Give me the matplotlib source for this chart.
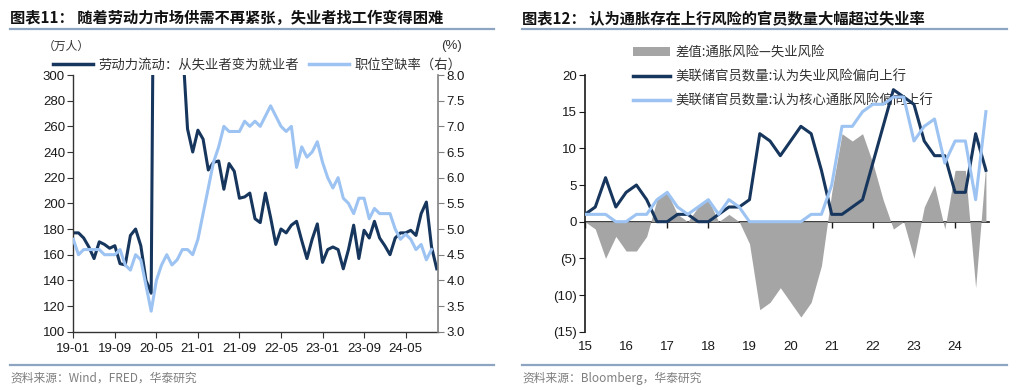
import numpy as np
import matplotlib
matplotlib.use("Agg")
import matplotlib.pyplot as plt
from matplotlib.lines import Line2D
from matplotlib.patches import Patch
from matplotlib.ticker import FuncFormatter, FormatStrFormatter
from matplotlib.font_manager import FontProperties

plt.rcParams['font.family'] = ['Liberation Sans', 'Noto Sans CJK SC', 'DejaVu Sans']
CJK = ['Noto Sans CJK SC', 'DejaVu Sans']

# ---------------- data: left chart (monthly, 2019-01 .. 2024-11) ----------------
flow_ue = [177, 177, 173, 166, 157, 170, 168, 165, 167, 153, 152, 175, 180, 167, 140, 130,
           700, 600, 500, 420, 370, 326, 258, 240, 257, 250, 226, 232, 233, 211, 231, 225,
           204, 205, 208, 188, 185, 208, 189, 168, 180, 177, 183, 186, 171, 157, 172, 184,
           154, 164, 166, 164, 149, 164, 183, 157, 179, 173, 186, 173, 167, 160, 173, 177,
           177, 179, 175, 192, 201, 166, 149]
vacancy_rate = [4.8, 4.5, 4.6, 4.6, 4.6, 4.6, 4.5, 4.5, 4.5, 4.6, 4.3, 4.2, 4.5, 4.4, 3.9, 3.4,
                4.0, 4.3, 4.5, 4.3, 4.4, 4.6, 4.6, 4.5, 4.8, 5.3, 5.8, 6.3, 6.6, 7.0, 6.9, 6.9,
                6.9, 7.1, 7.0, 7.1, 7.0, 7.2, 7.4, 7.2, 7.0, 6.9, 7.0, 6.2, 6.6, 6.4, 6.5, 6.7,
                6.3, 6.0, 5.8, 6.0, 5.6, 5.5, 5.3, 5.6, 5.6, 5.2, 5.4, 5.3, 5.3, 5.3, 5.0, 4.8,
                4.9, 4.8, 4.6, 4.7, 4.4, 4.6]
left_xlabels = ["19-01", "19-09", "20-05", "21-01", "21-09", "22-05", "23-01", "23-09", "24-05"]

# ---------------- data: right chart (quarterly SEP, 2015Q1 .. 2024Q4) ----------------
unemp_up = [1, 2, 6, 2, 4, 5, 3, 0, 0, 1, 1, 0, 0, 1, 2, 2, 3, 12, 11, 9,
            11, 13, 12, 7, 1, 1, 2, 3, 8, 13, 18, 17, 16, 11, 9, 9, 4, 4, 12, 7]
infl_up = [1, 1, 1, 0, 0, 1, 1, 3, 4, 2, 1, 2, 3, 1, 3, 2, 0, 0, 0, 0,
           0, 0, 1, 1, 5, 13, 13, 15, 16, 16, 17, 17, 11, 13, 14, 8, 11, 11, 3, 15]
right_xlabels = ["15", "16", "17", "18", "19", "20", "21", "22", "23", "24"]

NAVY = "#17365d"
LIGHT = "#9cc3f2"
GRAY = "#a5a5a5"
RULE = "#8da5c3"

W, H = 1024, 390
fig = plt.figure(figsize=(W / 100, H / 100), dpi=100)

def fx(px):
    return px / W

def fy(py):
    return 1 - py / H

# ---------------- left chart ----------------
ax = fig.add_axes([fx(73.3), fy(331.7), fx(438.3 - 73.3), (331.7 - 75) / H])
m = np.arange(len(flow_ue))
ax.plot(m, flow_ue, color=NAVY, lw=2.2)
ax.set_xlim(0, 70.3)
ax.set_ylim(100, 300)
ax.set_yticks(np.arange(100, 301, 20))
ax.set_xticks(np.arange(0, 8 * len(left_xlabels), 8))
ax.set_xticklabels(left_xlabels)
for s in ['top', 'right']:
    ax.spines[s].set_visible(False)
for s in ['left', 'bottom']:
    ax.spines[s].set_color('#333333')
    ax.spines[s].set_linewidth(1.0)
ax.tick_params(axis='both', direction='out', length=4, labelsize=9.5, colors='#333333',
               labelcolor='#1a1a1a')
ax.tick_params(axis='x', pad=4)
ax.tick_params(axis='y', pad=2)

ax2 = ax.twinx()
ax2.plot(np.arange(len(vacancy_rate)), vacancy_rate, color=LIGHT, lw=2.2)
ax2.set_ylim(3, 8)
ax2.set_yticks(np.arange(3, 8.01, 0.5))
ax2.yaxis.set_major_formatter(FormatStrFormatter('%.1f'))
for s in ['top', 'left', 'bottom']:
    ax2.spines[s].set_visible(False)
ax2.spines['right'].set_color('#808080')
ax2.spines['right'].set_linewidth(1.2)
ax2.tick_params(axis='y', direction='out', length=4, labelsize=9.5, colors='#808080',
                labelcolor='#1a1a1a', pad=2)

fig.text(fx(43), fy(46), "（万人）", fontsize=8.5, family=CJK, va='center', ha='left', color='#333333')
fig.text(fx(462), fy(46), "(%)", fontsize=9.5, va='center', ha='right', color='#333333')

leg1 = fig.legend([Line2D([], [], color=NAVY, lw=2.5), Line2D([], [], color=LIGHT, lw=2.5)],
                  ["劳动力流动：从失业者变为就业者", "职位空缺率（右）"],
                  loc='upper left', bbox_to_anchor=(fx(53), fy(58)), ncol=2, frameon=False,
                  prop=FontProperties(family=CJK, size=9.6), handlelength=3.0, handletextpad=0.4,
                  columnspacing=0.75, borderpad=0, borderaxespad=0)
for t in leg1.get_texts():
    t.set_color('#333333')

# ---------------- right chart ----------------
axr = fig.add_axes([fx(585), fy(331.7), fx(989 - 585), (331.7 - 75) / H])
q = np.arange(len(unemp_up))
diff = np.array(infl_up) - np.array(unemp_up)
axr.fill_between(q, 0, diff, color=GRAY, lw=0, zorder=1.5)
axr.plot(q, unemp_up, color=NAVY, lw=2.2, zorder=3)
axr.plot(q, infl_up, color=LIGHT, lw=2.2, zorder=3.1)
axr.set_xlim(0, 39.3)
axr.set_ylim(-15, 20)
axr.set_yticks(np.arange(-15, 21, 5))
axr.yaxis.set_major_formatter(FuncFormatter(lambda v, p: f"({abs(int(v))})" if v < 0 else f"{int(v)}"))
year_ticks = np.arange(0, 4 * len(right_xlabels), 4)
axr.set_xticks(year_ticks)
axr.set_xticklabels(right_xlabels)
for s in ['top', 'right', 'bottom']:
    axr.spines[s].set_visible(False)
axr.spines['left'].set_color('#1a1a1a')
axr.spines['left'].set_linewidth(1.2)
axr.tick_params(axis='y', direction='out', length=4, labelsize=9.5, colors='#1a1a1a', pad=2)
axr.tick_params(axis='x', length=0, labelsize=9.5, pad=7, labelcolor='#1a1a1a')

sec = axr.secondary_xaxis(15 / 35)
sec.set_xticks(year_ticks)
sec.tick_params(axis='x', direction='out', length=4, labelbottom=False, labeltop=False,
                color='#1a1a1a', width=1.0)
sec.spines['bottom'].set_color('#1a1a1a')
sec.spines['bottom'].set_linewidth(1.2)

leg2 = axr.legend([Patch(facecolor=GRAY, edgecolor='none'), Line2D([], [], color=NAVY, lw=2.5),
                   Line2D([], [], color=LIGHT, lw=2.5)],
                  ["差值:通胀风险—失业风险", "美联储官员数量:认为失业风险偏向上行",
                   "美联储官员数量:认为核心通胀风险偏向上行"],
                  loc='upper left', bbox_to_anchor=(fx(633), fy(45)), bbox_transform=fig.transFigure,
                  frameon=False, prop=FontProperties(family=CJK, size=9.6), handlelength=2.8,
                  handletextpad=0.4, labelspacing=0.78, borderpad=0, borderaxespad=0)
leg2.set_zorder(1)
for t in leg2.get_texts():
    t.set_color('#333333')

# ---------------- titles, rules, sources ----------------
fig.text(fx(10), fy(18), "图表11： 随着劳动力市场供需不再紧张，失业者找工作变得困难",
         fontsize=11, fontweight='bold', family=CJK, va='center', ha='left', color='#111111')
fig.text(fx(522), fy(18), "图表12： 认为通胀存在上行风险的官员数量大幅超过失业率",
         fontsize=11, fontweight='bold', family=CJK, va='center', ha='left', color='#111111')
for x0, x1 in [(10, 494), (522, 1007)]:
    fig.add_artist(Line2D([fx(x0), fx(x1)], [fy(28.5), fy(28.5)], transform=fig.transFigure,
                          color=RULE, lw=1.6))
    fig.add_artist(Line2D([fx(x0), fx(x1)], [fy(365), fy(365)], transform=fig.transFigure,
                          color=RULE, lw=1.6))
fig.text(fx(10), fy(378), "资料来源：Wind，FRED，华泰研究", fontsize=8.5, family=CJK,
         va='center', ha='left', color='#7f7f7f')
fig.text(fx(522), fy(378), "资料来源：Bloomberg，华泰研究", fontsize=8.5, family=CJK,
         va='center', ha='left', color='#7f7f7f')

fig.savefig("out.png", dpi=100)
